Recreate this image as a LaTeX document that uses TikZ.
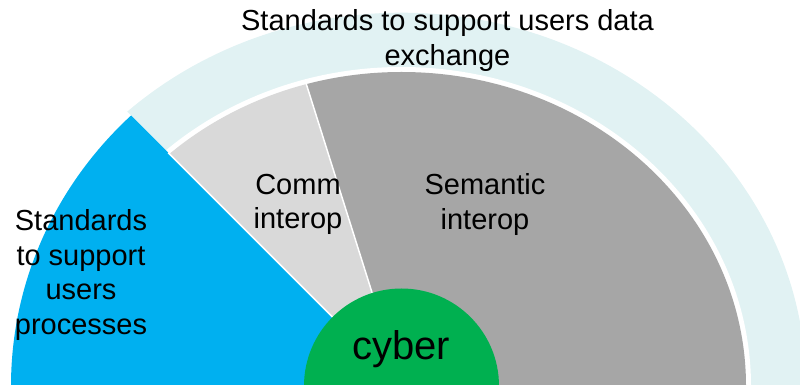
\documentclass[tikz,border=0pt]{standalone}
\usepackage{fontspec}
\setmainfont{Liberation Sans}
\usetikzlibrary{
	calc
}
\definecolor{UserBlue}{RGB}{0,176,240}
\definecolor{CyberGreen}{RGB}{0,176,80}
\definecolor{SemGray}{RGB}{166,166,166}
\definecolor{CommGray}{RGB}{217,217,217}
\definecolor{ExchCyan}{RGB}{225,242,243}

\begin{document}
\begin{tikzpicture}[
	x=1pt,
	y=1pt,
	ringtext/.style={
		font=\fontsize{29}{34.5}\selectfont,
		align=center,
		inner sep=0pt
	},
	splitline/.style={
		white,
		line width=1.5pt
	}
	]
	
	\useasboundingbox (0,0) rectangle (800,385);
	\coordinate (C) at (401.5,-1);
	
	% outer band
	\begin{scope}
		\clip (C) -- (1300,-1) -- (1300,1300) -- ($(C)+(135:1840)$) -- cycle;
		\fill[ExchCyan] (C) ellipse [x radius=404.4, y radius=373.3];
		\fill[white] (C) ellipse [x radius=349.5, y radius=319];
	\end{scope}
	
	\begin{scope}
		\clip (C) -- (1300,-1) -- (1300,1300) -- ($(C)+(107.5:1400)$) -- cycle;
		\fill[SemGray] (C) ellipse [x radius=344.5, y radius=314];
	\end{scope}
	
	\begin{scope}
		\clip (C) -- ($(C)+(107.5:1400)$) -- ($(C)+(135:1400)$) -- cycle;
		\fill[CommGray] (C) ellipse [x radius=344.5, y radius=314];
	\end{scope}
	
	\begin{scope}
		\clip (C) -- ($(C)+(135:1400)$) -- (-1000,-1) -- cycle;
		\fill[UserBlue] (C) ellipse [x radius=390.5, y radius=375];
	\end{scope}
	
	\draw[splitline] (C) -- ($(C)+(107.5:320)$);
	\draw[splitline] (C) -- ($(C)+(135:330)$);
	
	\fill[CyberGreen] (C) circle [radius=97.5];
	
	\node[ringtext] (exchange) at (447.5,344.5) {Standards to support users data\\exchange};
	\node[ringtext] (comm) at (298,180.5) {Comm\\interop};
	\node[ringtext] (semantic) at (485,180.5) {Semantic\\interop};
	\node[ringtext] (processes) at (81,110) {Standards\\to support\\users\\processes};
	\node[
	font=\fontsize{40}{46}\selectfont,
	inner sep=0pt
	] (cyber) at (401,36) {cyber};
	
\end{tikzpicture}
\end{document}
